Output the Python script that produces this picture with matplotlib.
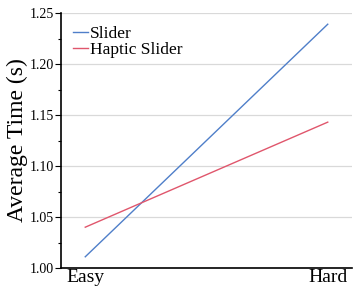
import matplotlib
matplotlib.use("Agg")
import matplotlib.pyplot as plt
from matplotlib.ticker import MultipleLocator

categories = ["Easy", "Hard"]
slider = [1.011, 1.239]
haptic = [1.040, 1.143]

plt.rcParams['font.family'] = ['Liberation Serif', 'DejaVu Serif']

fig = plt.figure(figsize=(3.53, 2.89), dpi=100)
ax = fig.add_axes([61/353, 1-268/289, (352-61)/353, (268-13)/289])

x = list(range(len(categories)))
ax.plot(x, slider, color="#4f7fc9", lw=1.0, label="Slider")
ax.plot(x, haptic, color="#e0566c", lw=1.0, label="Haptic Slider")

ax.set_xlim(-0.1, 1.1)
ax.set_ylim(1.00, 1.25)
ax.set_xticks(x)
ax.set_xticklabels(categories, fontsize=14)
ax.yaxis.set_major_locator(MultipleLocator(0.05))
ax.yaxis.set_minor_locator(MultipleLocator(0.025))
ax.yaxis.set_major_formatter(matplotlib.ticker.FormatStrFormatter('%.2f'))
ax.tick_params(axis='y', which='major', length=4, width=0.8, labelsize=10, pad=1)
ax.tick_params(axis='y', which='minor', length=2.5, width=0.8)
ax.tick_params(axis='x', length=0, pad=1)
ax.set_ylabel("Average Time (s)", fontsize=17, labelpad=1)
ax.grid(axis='y', which='major', color='#d9d9d9', lw=0.9)
ax.set_axisbelow(True)
for s in ['top', 'right']:
    ax.spines[s].set_visible(False)
for s in ['left', 'bottom']:
    ax.spines[s].set_linewidth(1.2)

ax.legend(loc='upper left', frameon=False, fontsize=12.5, handlelength=0.9,
          handletextpad=0.1, labelspacing=0.0, borderaxespad=0.2,
          bbox_to_anchor=(0.005, 0.99))

fig.savefig("out.png", dpi=100)
